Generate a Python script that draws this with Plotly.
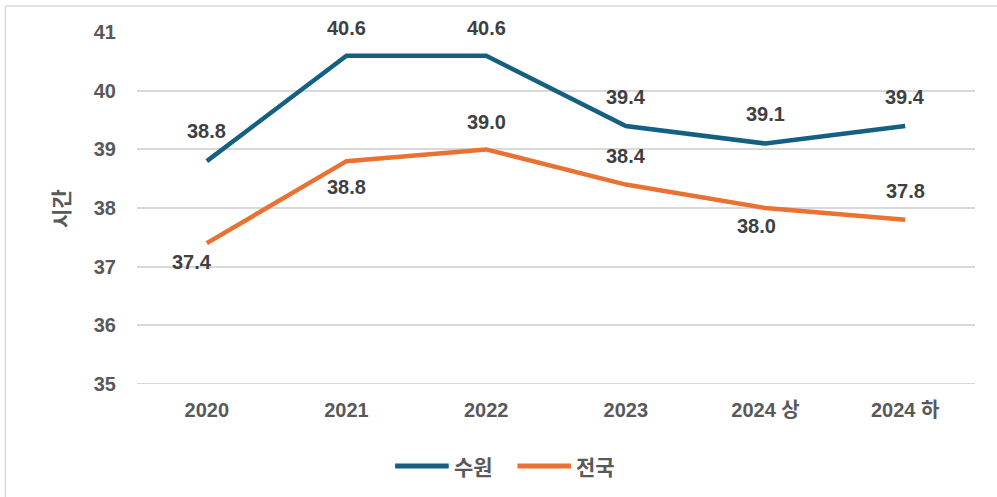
import plotly.graph_objects as go

# Weekly working hours: Suwon vs. national average
periods = ["2020", "2021", "2022", "2023", "2024 상", "2024 하"]
suwon = [38.8, 40.6, 40.6, 39.4, 39.1, 39.4]
national = [37.4, 38.8, 39.0, 38.4, 38.0, 37.8]
series_names = ["수원", "전국"]
y_ticks = [35, 36, 37, 38, 39, 40, 41]

# label placement for each point: (vertical shift px, horizontal shift px)
suwon_shift = [(30, 0), (28, 0), (28, 0), (29, 0), (30, 0), (29, 0)]
national_shift = [(-19, -15), (-26, 0), (27, 0), (29, 0), (-18, -9), (29, 0)]

BLUE = "#156082"
ORANGE = "#E97132"
GREY = "#595959"
GRID = "#D9D9D9"
FONT = "Liberation Sans, Arial, Noto Sans CJK KR, sans-serif"
KFONT = "Liberation Sans, Noto Sans CJK KR, sans-serif"

fig = go.Figure()
for name, vals, col in zip(series_names, (suwon, national), (BLUE, ORANGE)):
    fig.add_trace(go.Scatter(x=periods, y=vals, mode="lines", name=name,
                             line=dict(color=col, width=4.5), showlegend=False))

annotations = []
for vals, shifts in ((suwon, suwon_shift), (national, national_shift)):
    for i, (v, (dy, dx)) in enumerate(zip(vals, shifts)):
        annotations.append(dict(x=i, y=v, xref="x", yref="y", text=f"{v:.1f}",
                                showarrow=False, yshift=dy, xshift=dx,
                                font=dict(family=FONT, size=20, color="#404040",
                                          weight="bold")))

# y-axis title
annotations.append(dict(x=-0.092, y=0.5, xref="paper", yref="paper", text="시간",
                        textangle=-90, showarrow=False, xanchor="center", yanchor="middle",
                        font=dict(family="Noto Sans CJK KR", size=21, color=GREY,
                                  weight="bold")))

# baseline gridline at the bottom of the value range
shapes = [dict(type="line", xref="paper", yref="y", x0=0, x1=1, y0=y_ticks[0], y1=y_ticks[0],
               line=dict(color=GRID, width=1.5), layer="below")]

# legend below the plot: line swatch followed by series name
legend_items = [(series_names[0], BLUE, 0.308, 0.372), (series_names[1], ORANGE, 0.454, 0.518)]
for name, col, x0, x1 in legend_items:
    shapes.append(dict(type="line", xref="paper", yref="paper", x0=x0, x1=x1,
                       y0=-0.233, y1=-0.233, line=dict(color=col, width=5)))
    annotations.append(dict(x=x1 + 0.004, y=-0.233, xref="paper", yref="paper", text=name,
                            showarrow=False, xanchor="left", yanchor="middle",
                            font=dict(family="Noto Sans CJK KR", size=21, color=GREY,
                                      weight="bold")))

# chart-area border (top and left edges)
shapes += [
    dict(type="line", xref="paper", yref="paper", x0=-0.157, x1=1.1,
         y0=1.074, y1=1.074, line=dict(color=GRID, width=1.5)),
    dict(type="line", xref="paper", yref="paper", x0=-0.157, x1=-0.157,
         y0=1.074, y1=-0.4, line=dict(color=GRID, width=1.5)),
]

fig.update_layout(
    width=997, height=497,
    margin=dict(l=137, r=22, t=32, b=113),
    paper_bgcolor="white", plot_bgcolor="white",
    font=dict(family=FONT, color=GREY),
    showlegend=False,
    annotations=annotations,
    shapes=shapes,
)
fig.update_xaxes(type="category", range=[-0.5, 5.5], showgrid=False, showline=False,
                 ticks="", ticklabelstandoff=12,
                 tickfont=dict(family=KFONT, size=20, color=GREY, weight="bold"))
fig.update_yaxes(range=[34.995, 41.005], tickvals=y_ticks,
                 showgrid=True, gridcolor=GRID, gridwidth=1.5,
                 zeroline=False, showline=False, ticks="", ticklabelstandoff=20,
                 tickfont=dict(family=FONT, size=20, color=GREY, weight="bold"))

fig.write_html("out.html")
